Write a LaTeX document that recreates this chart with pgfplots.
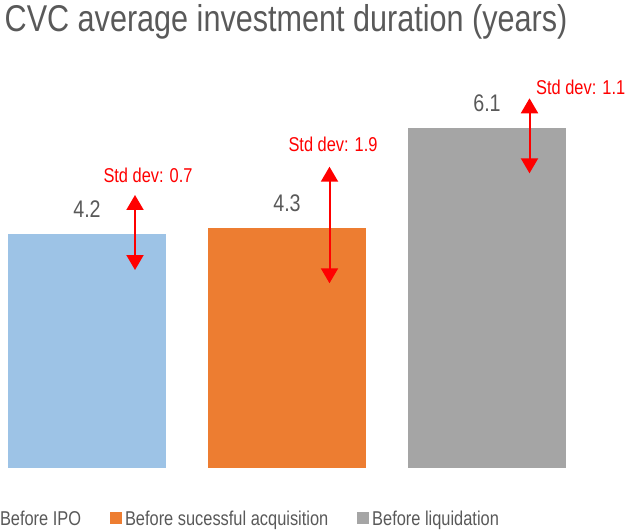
\documentclass[border=0pt]{standalone}
\usepackage{pgfplots}
\pgfplotsset{compat=1.18}
\usepackage{fontspec}
\setmainfont{Liberation Sans}[FakeStretch=0.82]
\usetikzlibrary{arrows.meta}
\definecolor{cblue}{HTML}{9DC3E6}
\definecolor{corange}{HTML}{ED7D31}
\definecolor{cgray}{HTML}{A5A5A5}
\definecolor{ctext}{HTML}{595959}
\definecolor{cred}{HTML}{FF0000}
\pgfplotsset{
  valbar/.style={ybar, bar width=157.4bp, bar shift=0pt, draw=none,
    nodes near coords={\pgfmathprintnumber[assume math mode=true]{\pgfplotspointmeta}},
    every node near coord/.append style={anchor=base, yshift=16.4bp, inner sep=0pt,
      font=\fontsize{24bp}{28bp}\selectfont, text=ctext}},
  sdarrow/.style={forget plot, cred, line width=2bp,
    {Triangle[width=17bp,length=15bp]}-{Triangle[width=17bp,length=15bp]}},
}
\begin{document}
\begin{tikzpicture}
\path[use as bounding box] (0,0) rectangle (626bp,531bp);
\begin{axis}[
  at={(3bp,63.3bp)}, anchor=south west,
  x=200bp, y=55.7bp,
  xmin=-0.42, xmax=2.68, ymin=0, ymax=7.3,
  hide axis, clip=false,
  legend style={draw=none, fill=none, inner sep=0pt, outer sep=0pt,
     at={(axis description cs:-0.029,-0.1237)}, anchor=west,
     font=\fontsize{20bp}{24bp}\selectfont, text=ctext,
     nodes={inner sep=0pt, text depth=0pt, text height=14.3bp},
     /tikz/every odd column/.append style={column sep=3bp},
     /tikz/every even column/.append style={column sep=28.9bp}},
  legend columns=3,
  legend image code/.code={\fill[#1] (0bp,-6bp) rectangle (12bp,6bp);},
]
\addplot[valbar, fill=cblue] coordinates {(0,4.2)};
\addlegendentry{Before IPO}
\addplot[valbar, fill=corange] coordinates {(1,4.3)};
\addlegendentry{Before sucessful acquisition}
\addplot[valbar, fill=cgray] coordinates {(2,6.1)};
\addlegendentry{Before liquidation}

\addplot[sdarrow] coordinates {(0.24,3.549) (0.24,4.896)};
\addplot[sdarrow] coordinates {(1.2125,3.311) (1.2125,5.404)};
\addplot[sdarrow] coordinates {(2.2125,5.285) (2.2125,6.632)};

\node[anchor=base west, inner sep=0pt, text=cred, font=\fontsize{20bp}{24bp}\selectfont] at (axis cs:0.0815,5.124) {Std dev: 0.7};
\node[anchor=base west, inner sep=0pt, text=cred, font=\fontsize{20bp}{24bp}\selectfont] at (axis cs:1.0065,5.673) {Std dev: 1.9};
\node[anchor=base west, inner sep=0pt, text=cred, font=\fontsize{20bp}{24bp}\selectfont] at (axis cs:2.245,6.709) {Std dev: 1.1};

\node[anchor=base west, inner sep=0pt, text=ctext, font=\fontsize{37.3bp}{44bp}\selectfont] at (axis cs:-0.4125,7.831) {CVC average investment duration (years)};
\end{axis}
\end{tikzpicture}
\end{document}
